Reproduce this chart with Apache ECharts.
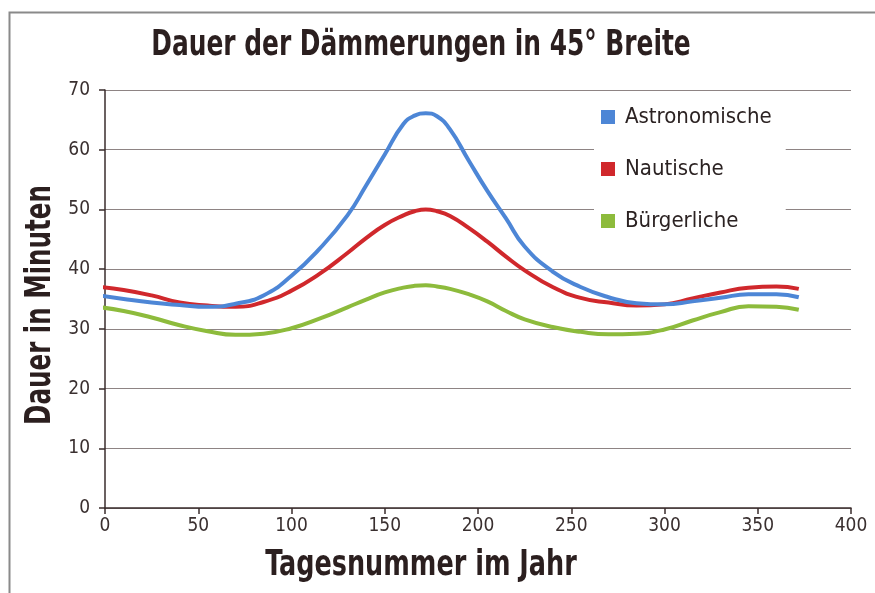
<!DOCTYPE html>
<html>
<head>
<meta charset="utf-8">
<script src="https://cdn.jsdelivr.net/npm/echarts@6/dist/echarts.min.js"></script>
<style>
html,body{margin:0;padding:0;background:#fff;}
#chart{width:875px;height:593px;}
</style>
</head>
<body>
<div id="chart"></div>
<script>
const days = [-5, 10, 25, 40, 55, 70, 85, 100, 115, 130, 140, 150, 160, 166, 172, 178, 185, 195, 205, 215, 225, 240, 255, 270, 285, 300, 315, 330, 345, 360, 372];
const astronomische = [35.7, 35.0, 34.4, 34.0, 33.7, 34.2, 35.6, 38.9, 43.4, 49.0, 54.0, 59.2, 64.3, 65.7, 66.1, 65.6, 63.4, 58.2, 53.1, 48.5, 43.8, 39.6, 37.0, 35.3, 34.3, 34.1, 34.6, 35.2, 35.8, 35.8, 35.3];
const nautische = [37.1, 36.5, 35.6, 34.4, 33.9, 33.7, 34.5, 36.4, 39.2, 42.7, 45.2, 47.4, 49.0, 49.7, 50.0, 49.7, 48.9, 46.9, 44.6, 42.1, 39.8, 37.0, 35.2, 34.4, 33.9, 34.1, 35.1, 36.1, 36.9, 37.1, 36.7];
const buergerliche = [33.7, 33.0, 31.9, 30.6, 29.6, 29.0, 29.2, 30.1, 31.7, 33.6, 34.9, 36.1, 36.9, 37.2, 37.3, 37.1, 36.7, 35.8, 34.6, 33.0, 31.6, 30.3, 29.5, 29.1, 29.2, 29.9, 31.4, 32.8, 33.8, 33.7, 33.2];
const seriesNames = ['Astronomische', 'Nautische', 'Bürgerliche'];
const seriesColors = ['#4d86d6', '#d0282c', '#8dbb3c'];
const titleText = 'Dauer der Dämmerungen in 45° Breite';
const xTitle = 'Tagesnummer im Jahr';
const yTitle = 'Dauer in Minuten';

const FONT = "'Liberation Sans Narrow', 'DejaVu Sans Condensed', 'Arial Narrow', sans-serif";
const BOLD = "bold 35px 'Liberation Sans Narrow', 'DejaVu Sans Condensed', sans-serif";
const pairs = vals => days.map((d, i) => [d, vals[i]]);
const allVals = [astronomische, nautische, buergerliche];

const chart = echarts.init(document.getElementById('chart'), null, {renderer: 'canvas'});
chart.setOption({
  backgroundColor: '#ffffff',
  animation: false,
  graphic: [{
    type: 'rect', left: 7, top: 10, z: -1, silent: true,
    shape: {width: 900, height: 620},
    style: {fill: 'none', stroke: '#8a8a8a', lineWidth: 2}
  }, {
    type: 'text', x: 421, y: 46, scaleX: 0.79, silent: true,
    style: {text: titleText, font: BOLD, fill: '#2b1f1f', align: 'center', verticalAlign: 'middle'}
  }, {
    type: 'text', x: 421, y: 566, scaleX: 0.81, silent: true,
    style: {text: xTitle, font: BOLD, fill: '#2b1f1f', align: 'center', verticalAlign: 'middle'}
  }, {
    type: 'text', x: 41, y: 305, scaleX: 0.78, rotation: Math.PI / 2, silent: true,
    style: {text: yTitle, font: BOLD, fill: '#2b1f1f', align: 'center', verticalAlign: 'middle'}
  }],
  legend: {
    orient: 'vertical', left: 594, top: 100, icon: 'rect',
    itemWidth: 14, itemHeight: 14, itemGap: 30,
    backgroundColor: '#ffffff', padding: [6, 14, 6, 7],
    textStyle: {fontFamily: FONT, fontSize: 22, color: '#2b2222', padding: [0, 0, 0, 5]},
    data: seriesNames
  },
  grid: {left: 105, right: 24, top: 90, bottom: 85, containLabel: false},
  xAxis: {
    type: 'value', min: 0, max: 400, interval: 50,
    axisLine: {lineStyle: {color: '#3a2c2c', width: 1.5}},
    axisTick: {show: true, length: 6, lineStyle: {color: '#3a2c2c', width: 1.5}},
    axisLabel: {fontFamily: FONT, fontSize: 19, color: '#3a3030', margin: 9},
    splitLine: {show: false}
  },
  yAxis: {
    type: 'value', min: 0, max: 70, interval: 10,
    axisLine: {show: true, lineStyle: {color: '#3a2c2c', width: 1.5}},
    axisTick: {show: true, length: 6, lineStyle: {color: '#3a2c2c', width: 1.5}},
    axisLabel: {fontFamily: FONT, fontSize: 19, color: '#3a3030', margin: 15},
    splitLine: {show: true, lineStyle: {color: '#8e8484', width: 1.2}}
  },
  series: seriesNames.map((n, i) => ({
    name: n, type: 'line', data: pairs(allVals[i]),
    smooth: 0.5, showSymbol: false, clip: false,
    color: seriesColors[i],
    lineStyle: {width: 4, color: seriesColors[i]},
    z: 3 - i
  }))
});
</script>
</body>
</html>
